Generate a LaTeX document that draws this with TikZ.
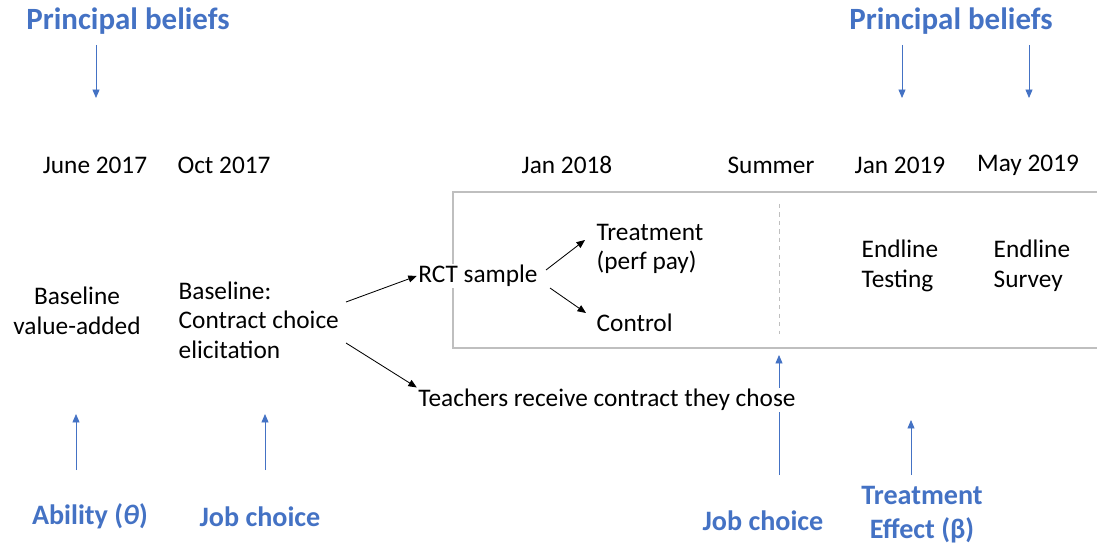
\documentclass[tikz,border=0pt]{standalone}
\usepackage{fontspec}
\setmainfont{Carlito}
\usetikzlibrary{arrows.meta, positioning}

\definecolor{officeblue}{HTML}{4472C4}
\definecolor{boxgray}{HTML}{BFBFBF}

\tikzset{
    plain/.style={font=\fontsize{18}{21}\selectfont, inner sep=1pt},
    bluelabel/.style={text=officeblue, font=\fontsize{22}{24}\selectfont\bfseries, align=center, inner sep=1pt},
    smallblue/.style={bluelabel, font=\fontsize{20}{24}\selectfont\bfseries},
    bluearrow/.style={draw=officeblue, line width=0.6pt, -{Triangle[length=6pt,width=5pt]}},
    blackarrow/.style={line width=0.6pt, -{Triangle[length=6pt,width=5pt]}},
}

\begin{document}
\begin{tikzpicture}[x=0.025cm, y=-0.025cm]
    \useasboundingbox (0,0) rectangle (1097,550);

    % Experiment box (open on the right)
    \draw[boxgray, line width=1.2pt] (1097,192) -- (453,192) -- (453,348) -- (1097,348);
    \draw[boxgray, dashed, line width=0.6pt] (779,204) -- (779,334);

    % Dates
    \node[plain] (jun17) at (95,165) {June 2017};
    \node[plain] (oct17) at (224,165) {Oct 2017};
    \node[plain] (jan18) at (567,165) {Jan 2018};
    \node[plain] (summer) at (771,165) {Summer};
    \node[plain] (jan19) at (900,165) {Jan 2019};
    \node[plain] (may19) at (1028,165) {May 2019};

    % Events
    \node[plain, align=center] (valadd) at (77,311) {Baseline\\value-added};
    \node[plain, align=left, anchor=west] (elicit) at (177,320) {Baseline:\\Contract choice\\elicitation};
    \node[plain, fill=white] (rct) at (478,276) {RCT sample};
    \node[plain, align=left, anchor=west] (treat) at (595,249) {Treatment\\(perf pay)};
    \node[plain, anchor=west] (control) at (595,323) {Control};
    \node[plain, align=left, anchor=west] (testing) at (860,266) {Endline\\Testing};
    \node[plain, align=left, anchor=west] (survey) at (992,266) {Endline\\Survey};

    % Arrows between events
    \coordinate (elicitA) at (346,302);
    \coordinate (elicitB) at (346,343);
    \coordinate (rctA) at (546,270);
    \coordinate (rctB) at (550,288);
    \draw[blackarrow] (elicitA) -- (rct.west);
    \draw[blackarrow] (rctA) -- (585,240);
    \draw[blackarrow] (rctB) -- (586,313);

    % Blue labels on top
    \node[bluelabel] (pbleft) at (128,21) {Principal beliefs};
    \node[bluelabel] (pbright) at (951,21) {Principal beliefs};
    \foreach \x in {96,902,1029} {
        \draw[bluearrow] (\x,45) -- (\x,98);
    }

    % Blue labels at the bottom
    \node[smallblue] (ability) at (90,516) {Ability (\textit{θ})};
    \node[smallblue] (jobleft) at (260,517) {Job choice};
    \node[smallblue] (jobright) at (763,521) {Job choice};
    \node[smallblue] (effect) at (922,515) {Treatment\\Effect (β)};
    \draw[bluearrow] (76,470) -- (76,414);
    \draw[bluearrow] (265,470) -- (265,414);
    \draw[bluearrow] (779,475) -- (779,355);
    \draw[bluearrow] (911,475) -- (911,420);

    % Contract outcome (drawn over the summer arrow)
    \node[plain, fill=white] (receive) at (607,400) {Teachers receive contract they chose};
    \draw[blackarrow] (elicitB) -- (receive.north west);
\end{tikzpicture}
\end{document}
